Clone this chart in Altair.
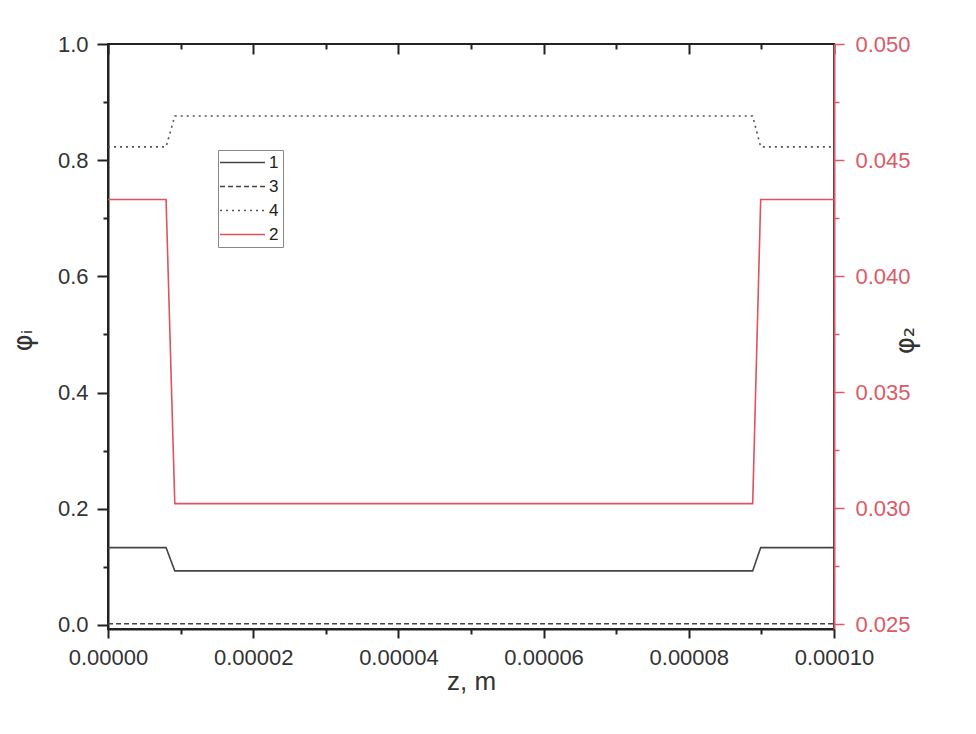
import altair as alt
import pandas as pd

# ---- data ----
z = [0.0, 8.0e-6, 9.2e-6, 88.8e-6, 89.9e-6, 100e-6]
phi1 = [0.133, 0.133, 0.093, 0.093, 0.133, 0.133]
phi3 = [0.002, 0.002, 0.002, 0.002, 0.002, 0.002]
phi4 = [0.823, 0.823, 0.876, 0.876, 0.823, 0.823]
phi2 = [0.0433, 0.0433, 0.0302, 0.0302, 0.0433, 0.0433]

legend_order = ["1", "3", "4", "2"]
x_major = [0.0, 2e-5, 4e-5, 6e-5, 8e-5, 1e-4]
x_minor = [1e-5, 3e-5, 5e-5, 7e-5, 9e-5]
yl_major = [0.0, 0.2, 0.4, 0.6, 0.8, 1.0]
yl_minor = [0.1, 0.3, 0.5, 0.7, 0.9]
yr_major = [0.025, 0.030, 0.035, 0.040, 0.045, 0.050]
yr_minor = [0.0275, 0.0325, 0.0375, 0.0425, 0.0475]

XDOM = [0.0, 1e-4]
YL_DOM = [-0.007, 1.0]
YR_DOM = [0.0248, 0.050]

RED = "#e0525e"
RED_AX = "#dc5a66"
BLK = "#222222"
FONT = "Liberation Sans"

rows = []
for name, vals in (("1", phi1), ("3", phi3), ("4", phi4)):
    for zz, v in zip(z, vals):
        rows.append({"z": zz, "v": v, "series": name})
black_df = pd.DataFrame(rows)
red_df = pd.DataFrame({"z": z, "v": phi2, "series": ["2"] * len(z)})

color_scale = alt.Scale(domain=legend_order, range=["#444444", "#444444", "#555555", RED])
dash_scale = alt.Scale(domain=legend_order, range=[[1, 0], [5, 3], [2, 4], [1, 0]])
legend = alt.Legend(
    title=None, orient="none", legendX=110, legendY=106,
    symbolType="M-4.5,0L4.5,0", symbolSize=100, symbolStrokeWidth=1.5,
    symbolOffset=12, labelOffset=18,
    labelFontSize=17, labelFont=FONT, labelColor="#222",
    rowPadding=6, padding=4, strokeColor="#888888", cornerRadius=0,
)

xs = alt.Scale(domain=XDOM, nice=False, zero=False)
yls = alt.Scale(domain=YL_DOM, nice=False, zero=False)
yrs = alt.Scale(domain=YR_DOM, nice=False, zero=False)

lab = dict(labelFont=FONT, labelFontSize=22, labelColor="#333333", grid=False)

black = alt.Chart(black_df).mark_line(strokeWidth=1.6).encode(
    x=alt.X("z:Q", scale=xs, axis=alt.Axis(
        orient="bottom", values=x_major, format=".5f", tickSize=9, tickWidth=2,
        tickColor=BLK, domainColor=BLK, domainWidth=2, labelPadding=9,
        labelFlush=False,
        title="z, m", titleFont=FONT, titleFontSize=26, titleFontWeight="normal",
        titleColor="#333333", titlePadding=0, **lab)),
    y=alt.Y("v:Q", scale=yls, axis=alt.Axis(
        orient="left", values=yl_major, format=".1f", tickSize=11, tickWidth=2,
        tickColor=BLK, domainColor=BLK, domainWidth=2, labelPadding=9,
        title="φᵢ", titleFont="DejaVu Sans", titleFontSize=26, titleFontWeight="normal",
        titleColor="#333333", titleAngle=270, titleX=-85, titleY=296,
        titleAlign="center", titleBaseline="middle", **lab)),
    color=alt.Color("series:N", scale=color_scale, legend=legend),
    strokeDash=alt.StrokeDash("series:N", scale=dash_scale, legend=legend),
    detail="series:N",
)

red = alt.Chart(red_df).mark_line(strokeWidth=1.6).encode(
    x=alt.X("z:Q", scale=xs, axis=None),
    y=alt.Y("v:Q", scale=yrs, axis=alt.Axis(
        orient="right", values=yr_major, format=".3f", tickSize=10, tickWidth=1.5,
        tickColor=RED_AX, domainColor=RED_AX, domainWidth=2, labelPadding=11,
        labelFont=FONT, labelFontSize=22, labelColor=RED_AX, grid=False,
        title="φ₂", titleFont="DejaVu Sans", titleFontSize=26, titleFontWeight="normal",
        titleColor="#333333", titleAngle=270, titleX=71, titleY=296,
        titleAlign="center", titleBaseline="middle")),
    color=alt.Color("series:N", scale=color_scale, legend=legend),
    strokeDash=alt.StrokeDash("series:N", scale=dash_scale, legend=legend),
)

# minor ticks bottom + left
minor_bl = alt.Chart(black_df).mark_point(opacity=0).encode(
    x=alt.X("z:Q", scale=xs, axis=alt.Axis(
        orient="bottom", values=x_minor, tickSize=5, tickWidth=2, tickColor=BLK,
        labels=False, domain=False, title=None, grid=False)),
    y=alt.Y("v:Q", scale=yls, axis=alt.Axis(
        orient="left", values=yl_minor, tickSize=5, tickWidth=2, tickColor=BLK,
        labels=False, domain=False, title=None, grid=False)),
)

# top majors (inward) + right minors
top_major = alt.Chart(red_df).mark_point(opacity=0).encode(
    x=alt.X("z:Q", scale=xs, axis=alt.Axis(
        orient="top", values=x_major, tickSize=10, tickWidth=2, tickColor=BLK,
        offset=-10, labels=False, domain=False, title=None, grid=False)),
    y=alt.Y("v:Q", scale=yrs, axis=alt.Axis(
        orient="right", values=yr_minor, tickSize=5, tickWidth=1.5, tickColor=RED_AX,
        labels=False, domain=False, title=None, grid=False)),
)

# top minors (inward)
top_minor = alt.Chart(red_df).mark_point(opacity=0).encode(
    x=alt.X("z:Q", scale=xs, axis=alt.Axis(
        orient="top", values=x_minor, tickSize=5, tickWidth=2, tickColor=BLK,
        offset=-5, labels=False, domain=False, title=None, grid=False)),
    y=alt.Y("v:Q", scale=yrs, axis=None),
)

chart = alt.layer(black, red, minor_bl, top_major, top_minor).resolve_scale(
    y="independent"
).resolve_axis(
    x="independent", y="independent"
).properties(
    width=726, height=585,
    autosize=alt.AutoSizeParams(type="none"),
    padding={"left": 100, "top": 36, "right": 130, "bottom": 90},
    background="white",
).configure_view(
    stroke=BLK, strokeWidth=2
)

chart.save("out.html", embed_options={"renderer": "svg", "actions": False})
